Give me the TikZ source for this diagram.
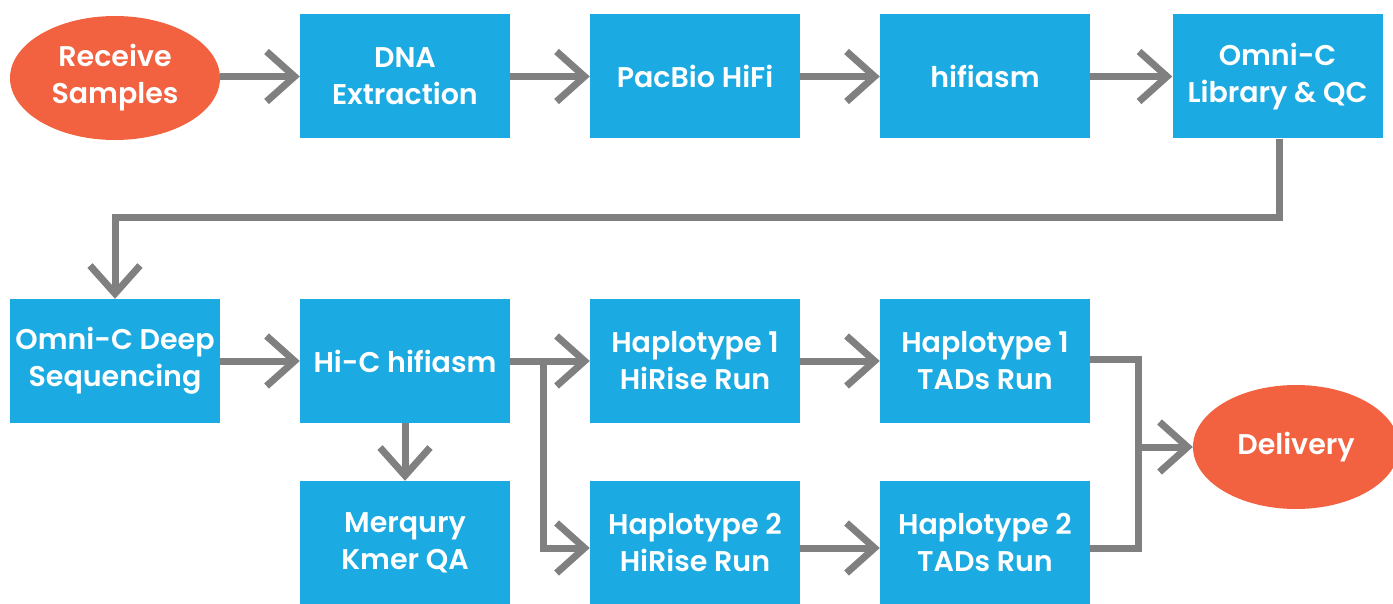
\documentclass[tikz,border=0pt]{standalone}
\usepackage{fontspec}
\setmainfont{Poppins}[BoldFont={* SemiBold}]
\usetikzlibrary{arrows.meta,shapes.geometric}
\definecolor{boxblue}{HTML}{1BAAE1}
\definecolor{ovalorange}{HTML}{F26241}
\definecolor{arrowgrey}{HTML}{808080}
\tikzset{
  stepbox/.style={fill=boxblue, draw=none, minimum width=210pt, minimum height=124pt, inner sep=0pt,
    text=white, font=\bfseries\fontsize{28.5}{37}\selectfont, align=center},
  oval/.style={ellipse, fill=ovalorange, draw=none, minimum width=210pt, minimum height=124pt, inner sep=0pt,
    text=white, font=\bfseries\fontsize{28.5}{37}\selectfont, align=center},
  conn/.style={draw=arrowgrey, line width=7pt, -{Straight Barb[length=28pt, width=50pt, line width=7pt]}},
  plain/.style={draw=arrowgrey, line width=7pt}
}
\begin{document}
\begin{tikzpicture}[x=1pt,y=-1pt]
\useasboundingbox (0,0) rectangle (1393,604);
% row 1
\node[oval] (recv) at (115,78) {Receive\\Samples};
\node[stepbox] (dna) at (405,76.5) {DNA\\Extraction};
\node[stepbox] (pac) at (695,76.5) {PacBio HiFi};
\node[stepbox] (hfa) at (985,76.5) {hifiasm};
\node[stepbox] (lib) at (1277.5,76.5) {Omni-C\\Library \& QC};
% row 2
\node[stepbox] (deep) at (115,361) {Omni-C Deep\\Sequencing};
\node[stepbox] (hic) at (405,361) {Hi-C hifiasm};
\node[stepbox] (h1r) at (695,361) {Haplotype 1\\HiRise Run};
\node[stepbox] (h1t) at (985,361) {Haplotype 1\\TADs Run};
\node[oval, minimum width=206pt] (del) at (1296,447) {Delivery};
% row 3
\node[stepbox] (mer) at (405,543) {Merqury\\Kmer QA};
\node[stepbox] (h2r) at (695,543) {Haplotype 2\\HiRise Run};
\node[stepbox] (h2t) at (985,543) {Haplotype 2\\TADs Run};
% connectors
\draw[conn] (recv.east |- dna.west) -- (dna.west);
\draw[conn] (dna.east) -- (pac.west);
\draw[conn] (pac.east) -- (hfa.west);
\draw[conn] (hfa.east) -- (lib.west);
\coordinate (t1) at (1279,218);
\coordinate (t2) at (115,218);
\draw[conn, line join=miter] (lib.south -| t1) -- (t1) -- (t2) -- (deep.north);
\draw[conn] (deep.east) -- (hic.west);
\coordinate (b1) at (543,361);
\coordinate (b2) at (543,548);
\draw[conn] (hic.east) -- (h1r.west);
\draw[conn, line join=miter] (b1) -- (b2) -- (h2r.west |- b2);
\draw[conn] (hic.south) -- (mer.north);
\draw[conn] (h1r.east) -- (h1t.west);
\draw[conn] (h2r.east |- b2) -- (h2t.west |- b2);
\coordinate (d1) at (1138,359);
\coordinate (d2) at (1138,548);
\coordinate (d3) at (1138,447);
\draw[plain, line join=miter] (h1t.east |- d1) -- (d1) -- (d2) -- (h2t.east |- d2);
\draw[conn] (d3) -- (del.west);
\end{tikzpicture}
\end{document}
